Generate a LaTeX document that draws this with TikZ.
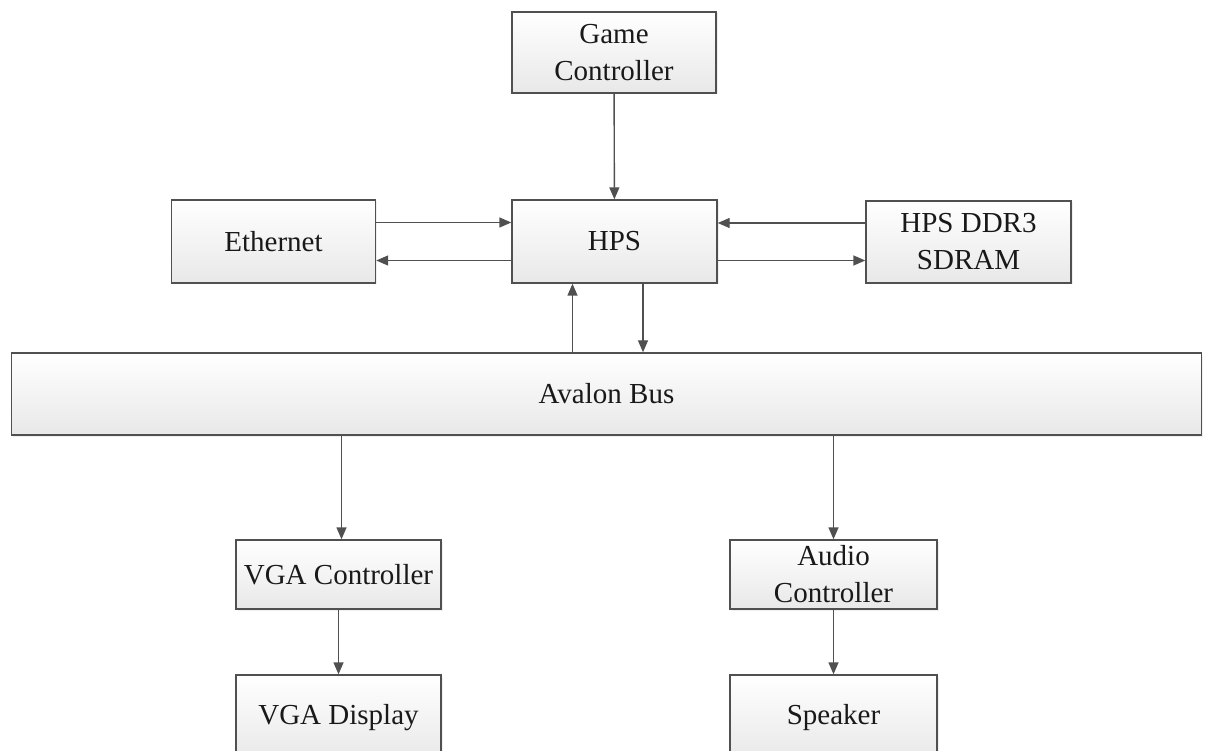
\documentclass[tikz,border=0pt]{standalone}
\usepackage{fontspec}
\setmainfont{Liberation Serif}
\usetikzlibrary{arrows.meta,shadows}
\definecolor{edge}{HTML}{505050}
\definecolor{boxbot}{HTML}{E8E8E8}
\tikzset{
  blk/.style={draw=edge, line width=1.4pt, top color=white, bottom color=boxbot,
    drop shadow={opacity=0.12, shadow xshift=1.5pt, shadow yshift=-1.5pt},
    align=center, inner sep=0pt, font=\fontsize{29}{37}\selectfont, text=black!90},
  arr/.style={draw=edge, line width=1.4pt, -{Triangle[length=12pt,width=10pt]}}
}
\begin{document}
\begin{tikzpicture}[x=1pt,y=-1pt]
\useasboundingbox (0,0) rectangle (1213,751);
\fill[white] (0,0) rectangle (1213,751);
\node[blk, minimum width=204pt, minimum height=81pt] (gc) at (614,52.5) {Game\\Controller};
\node[blk, minimum width=204pt, minimum height=83pt] (eth) at (273.5,241.5) {Ethernet};
\node[blk, minimum width=205pt, minimum height=83pt] (hps) at (614.5,241.5) {HPS};
\node[blk, minimum width=205pt, minimum height=82pt] (sdram) at (968.5,242) {HPS DDR3\\SDRAM};
\node[blk, minimum width=1190pt, minimum height=82pt] (bus) at (606.5,394) {Avalon Bus};
\node[blk, minimum width=205pt, minimum height=69pt] (vgac) at (338.5,574.5) {VGA Controller};
\node[blk, minimum width=207pt, minimum height=69pt] (audc) at (833.5,574.5) {Audio\\Controller};
\node[blk, minimum width=205pt, minimum height=85pt] (vgad) at (338.5,717.5) {VGA Display};
\node[blk, minimum width=207pt, minimum height=85pt] (spk) at (833.5,717.5) {Speaker};
% connectors
\draw[arr] (gc) -- (hps);
\draw[arr] ([yshift=19pt]eth.east) -- ([yshift=19pt]eth.east -| hps.west);
\draw[arr] ([yshift=-19pt]hps.west) -- ([yshift=-19pt]hps.west -| eth.east);
\draw[arr] ([yshift=19pt]sdram.west) -- ([yshift=19pt]sdram.west -| hps.east);
\draw[arr] ([yshift=-19pt]hps.east) -- ([yshift=-19pt]hps.east -| sdram.west);
\draw[arr] ([xshift=-42pt]hps.south |- bus.north) -- ([xshift=-42pt]hps.south);
\draw[arr] ([xshift=28.5pt]hps.south) -- ([xshift=28.5pt]hps.south |- bus.north);
\draw[arr] ([xshift=3pt]vgac.north |- bus.south) -- ([xshift=3pt]vgac.north);
\draw[arr] (audc.north |- bus.south) -- (audc.north);
\draw[arr] (vgac) -- (vgad);
\draw[arr] (audc) -- (spk);
\end{tikzpicture}
\end{document}
